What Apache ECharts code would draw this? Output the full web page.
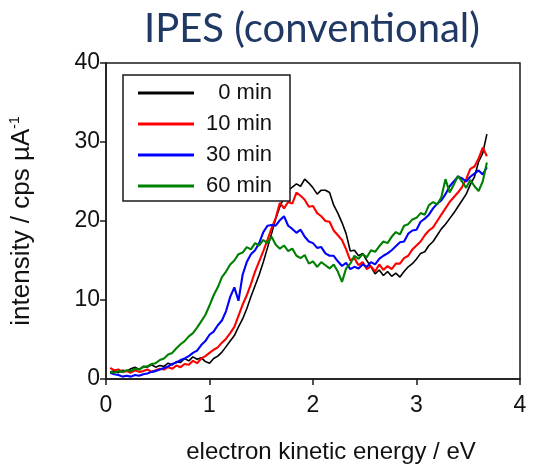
<!DOCTYPE html>
<html>
<head>
<meta charset="utf-8">
<title>IPES (conventional)</title>
<script src="https://cdn.jsdelivr.net/npm/echarts@6/dist/echarts.min.js"></script>
<style>
  html, body { margin: 0; padding: 0; background: #fff; }
  #chart { width: 551px; height: 469px; }
</style>
</head>
<body>
<div id="chart"></div>
<script>
// Electron kinetic energy grid (eV)
const energy = [
  0.04, 0.08, 0.12, 0.16, 0.20, 0.24, 0.28, 0.32, 0.36, 0.40,
  0.44, 0.48, 0.52, 0.56, 0.60, 0.64, 0.68, 0.72, 0.76, 0.80,
  0.84, 0.88, 0.92, 0.96, 1.00, 1.04, 1.08, 1.12, 1.16, 1.20,
  1.24, 1.28, 1.32, 1.36, 1.40, 1.44, 1.48, 1.52, 1.56, 1.60,
  1.64, 1.68, 1.72, 1.76, 1.80, 1.84, 1.88, 1.92, 1.96, 2.00,
  2.04, 2.08, 2.12, 2.16, 2.20, 2.24, 2.28, 2.32, 2.36, 2.40,
  2.44, 2.48, 2.52, 2.56, 2.60, 2.64, 2.68, 2.72, 2.76, 2.80,
  2.84, 2.88, 2.92, 2.96, 3.00, 3.04, 3.08, 3.12, 3.16, 3.20,
  3.24, 3.28, 3.32, 3.36, 3.40, 3.44, 3.48, 3.52, 3.56, 3.60,
  3.64, 3.68
];

// Intensity (cps µA^-1) after each exposure time
const min0 = [
  0.9, 1.0, 0.8, 1.1, 1.0, 1.3, 1.5, 1.2, 1.6, 1.5,
  1.8, 1.5, 1.7, 1.6, 2.0, 1.8, 2.2, 2.1, 2.6, 2.3,
  2.8, 2.5, 2.7, 2.2, 2.0, 2.6, 2.9, 3.4, 4.1, 4.8,
  5.5, 6.6, 7.6, 8.9, 10.4, 11.8, 13.2, 14.8, 16.6, 18.4,
  20.3, 21.8, 23.0, 23.8, 24.3, 24.7, 24.4, 25.3, 24.8, 24.2,
  23.4, 23.9, 23.9, 23.6, 22.0, 21.0, 19.8, 18.4, 16.2, 16.3,
  15.6, 15.9, 15.0, 14.2, 13.3, 13.8, 13.1, 13.6, 13.0, 13.4,
  12.9, 13.6, 14.2, 14.6, 15.2, 15.9, 16.1, 16.9, 17.4, 18.2,
  19.0, 19.6, 20.3, 21.0, 21.8, 22.6, 23.4, 24.6, 25.6, 27.5,
  28.6, 31.0
];
const min10 = [
  1.4, 1.1, 1.2, 0.9, 1.0, 0.8, 1.1, 0.9, 1.0, 1.2,
  0.9, 1.1, 1.3, 1.2, 1.5, 1.3, 1.7, 1.5, 1.9, 1.8,
  2.3, 2.0, 2.6, 2.9, 3.3, 3.7, 4.0, 4.6, 5.1, 5.8,
  6.6, 8.0, 9.4, 10.6, 12.0, 13.6, 14.9, 16.2, 17.6, 19.1,
  20.4, 22.3, 21.6, 22.4, 22.2, 23.6, 23.2, 22.7, 21.8, 21.9,
  21.0, 20.6, 20.0, 19.9, 18.8, 18.2, 17.6, 16.4, 15.0, 15.3,
  14.4, 14.8, 13.9, 14.3, 13.6, 14.5, 13.8, 14.3, 13.9, 14.6,
  14.6, 15.3, 15.6, 16.4, 16.9, 17.4, 18.2, 18.8, 19.2, 20.0,
  20.8, 21.6, 22.4, 23.0, 23.6, 24.3, 25.3, 26.6, 26.9, 27.9,
  29.3, 28.2
];
const min30 = [
  0.8, 0.6, 0.5, 0.3, 0.4, 0.3, 0.5, 0.4, 0.6, 0.7,
  0.9, 1.0, 1.2, 1.4, 1.6, 1.9, 2.1, 2.4, 2.6, 2.9,
  3.3, 3.6, 4.3, 4.8, 5.6, 6.0, 6.8, 7.4, 8.6, 10.4,
  11.6, 9.9, 13.2, 14.8, 15.8, 16.3, 17.2, 18.6, 19.4, 19.5,
  19.4, 20.1, 20.6, 19.4, 19.0, 18.5, 18.9, 18.0, 17.4, 17.2,
  16.6, 16.7, 15.9, 15.6, 15.6, 14.9, 14.3, 14.7, 13.9, 14.2,
  14.0, 14.5, 14.2, 14.8, 14.5, 15.2, 15.6, 15.9, 16.3, 16.8,
  17.3, 17.4, 18.4, 18.8, 18.9, 19.9, 20.3, 20.8, 21.6, 22.2,
  22.6, 23.4, 24.4, 25.0, 25.6, 25.4, 25.0, 25.6, 26.0, 26.4,
  25.9, 26.8
];
const min60 = [
  0.9, 0.8, 1.0, 0.9, 1.1, 1.0, 1.3, 1.2, 1.5, 1.6,
  1.9, 2.0, 2.4, 2.6, 3.1, 3.3, 3.9, 4.4, 4.8, 5.4,
  5.8, 6.5, 7.3, 8.1, 9.3, 10.6, 11.6, 12.9, 13.6, 14.5,
  15.0, 15.8, 16.0, 16.7, 16.4, 17.2, 16.9, 17.6, 17.2, 18.0,
  17.0, 16.5, 16.9, 16.2, 16.5, 15.6, 15.3, 15.7, 14.6, 14.9,
  14.2, 14.8, 14.4, 14.0, 14.5, 13.6, 12.3, 14.0, 14.6, 15.6,
  15.2, 15.8, 15.4, 16.3, 16.1, 16.8, 17.4, 17.2, 18.0, 18.6,
  18.3, 19.4, 19.6, 20.2, 20.4, 21.0, 20.8, 22.0, 22.4, 22.1,
  23.0, 25.3, 23.6, 24.6, 25.7, 25.0, 24.2, 25.2, 24.4, 23.8,
  25.0, 27.4
];

const seriesNames = ['0 min', '10 min', '30 min', '60 min'];
const seriesColors = ['#000000', '#ff0000', '#0000ff', '#008000'];
const seriesWidths = [1.6, 2.1, 2.1, 2.1];
const seriesValues = [min0, min10, min30, min60];

const xTicks = [0, 1, 2, 3, 4];
const yTicks = [0, 10, 20, 30, 40];

const chart = echarts.init(document.getElementById('chart'), null, { renderer: 'canvas' });

const axisFont = 'Liberation Sans, Arial, sans-serif';

chart.setOption({
  animation: false,
  backgroundColor: '#ffffff',
  title: {
    text: 'IPES (conventional)',
    left: 307,
    top: 4,
    textAlign: 'center',
    textStyle: {
      fontFamily: 'Lato, sans-serif',
      fontSize: 40,
      fontWeight: 'normal',
      color: '#203864'
    }
  },
  grid: {
    left: 106,
    right: 31,
    top: 63,
    bottom: 88,
    show: true,
    borderColor: '#1a1a1a',
    borderWidth: 1.5,
    backgroundColor: 'transparent'
  },
  legend: {
    orient: 'vertical',
    left: 123,
    top: 75,
    padding: [7, 18, 4, 15],
    itemGap: 9,
    itemWidth: 56,
    itemHeight: 3,
    icon: 'rect',
    borderColor: '#1a1a1a',
    borderWidth: 1.5,
    backgroundColor: '#ffffff',
    data: seriesNames,
    formatter: name => '{t|' + name + '}',
    textStyle: {
      rich: {
        t: {
          width: 73,
          align: 'right',
          fontFamily: axisFont,
          fontSize: 22,
          lineHeight: 24,
          color: '#111'
        }
      }
    }
  },
  xAxis: {
    type: 'value',
    min: 0,
    max: 4,
    interval: 1,
    name: 'electron kinetic energy / eV',
    nameLocation: 'middle',
    nameGap: 61,
    nameTextStyle: {
      fontFamily: axisFont,
      fontSize: 24,
      color: '#111',
      padding: [0, 0, 0, 36]
    },
    axisLine: { show: true, lineStyle: { color: '#1a1a1a', width: 1.5 } },
    axisTick: { show: true, inside: false, length: 6, lineStyle: { color: '#1a1a1a', width: 1.5 } },
    axisLabel: {
      margin: 15,
      fontFamily: axisFont,
      fontSize: 23,
      color: '#111',
      formatter: v => (xTicks.includes(v) ? String(v) : '')
    },
    splitLine: { show: false }
  },
  yAxis: {
    type: 'value',
    min: 0,
    max: 40,
    interval: 10,
    name: '{a|intensity / cps µA}{s|-1}',
    nameLocation: 'middle',
    nameRotate: 90,
    nameGap: 70,
    nameTextStyle: {
      padding: [0, 0, 0, 0],
      rich: {
        a: { fontFamily: axisFont, fontSize: 26, color: '#111', lineHeight: 28 },
        s: { fontFamily: axisFont, fontSize: 14, color: '#111', verticalAlign: 'top', lineHeight: 28 }
      }
    },
    axisLine: { show: true, lineStyle: { color: '#1a1a1a', width: 1.5 } },
    axisTick: { show: true, inside: false, length: 6, lineStyle: { color: '#1a1a1a', width: 1.5 } },
    axisLabel: {
      margin: 6,
      fontFamily: axisFont,
      fontSize: 23,
      color: '#111',
      formatter: v => (yTicks.includes(v) ? String(v) : '')
    },
    splitLine: { show: false }
  },
  series: seriesNames.map((name, k) => ({
    name: name,
    type: 'line',
    showSymbol: false,
    symbol: 'none',
    data: energy.map((x, i) => [x, seriesValues[k][i]]),
    lineStyle: { color: seriesColors[k], width: seriesWidths[k] },
    itemStyle: { color: seriesColors[k] },
    z: 2 + k
  }))
});
</script>
</body>
</html>
